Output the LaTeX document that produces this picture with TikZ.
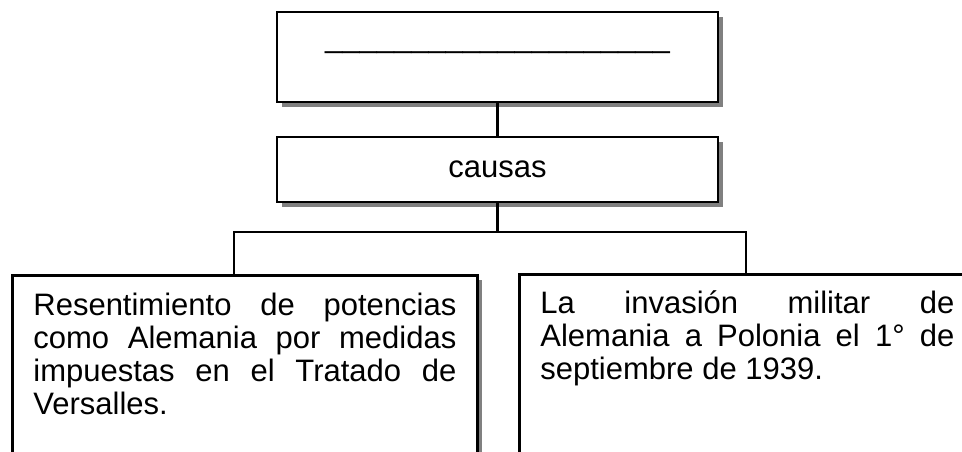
\documentclass[tikz,border=0pt]{standalone}
\usepackage{fontspec}
\setmainfont{Liberation Sans}
\usetikzlibrary{shadows}
\begin{document}
\begin{tikzpicture}[x=1pt,y=-1pt,
  box/.style={draw, line width=2.8pt, fill=white,
    drop shadow={shadow xshift=5pt, shadow yshift=-5pt, fill=black!50, opacity=1}},
  link/.style={line width=2.6pt},
  txt/.style={font=\fontsize{31}{33}\selectfont}]
\useasboundingbox (0,0) rectangle (962,451);
\clip (0,0) rectangle (962,451);
\node[box, txt, minimum width=441pt, minimum height=90pt, inner sep=0pt,
  text height=0pt, text depth=20pt] (title) at (497.5,57)
  {\_\_\_\_\_\_\_\_\_\_\_\_\_\_\_\_\_\_\_\_};
\node[box, txt, minimum width=441pt, minimum height=65pt, inner sep=0pt] (causas) at (497.5,169.5) {causas};
\node[box, txt, anchor=north west, text width=423pt, inner xsep=21pt, inner ysep=18pt,
  text height=22pt, text depth=200pt, align=justify] (left) at (11,274)
  {\hyphenpenalty=10000 Resentimiento de potencias\linebreak como Alemania por medidas\linebreak impuestas en el Tratado de\linebreak Versalles.};
\node[box, txt, anchor=north west, text width=414pt, inner xsep=21pt, inner ysep=17pt,
  text height=22pt, text depth=200pt, align=justify] (right) at (518,273)
  {\hyphenpenalty=10000 La invasión militar de\linebreak Alemania a Polonia el 1° de\linebreak septiembre de 1939.};
\coordinate (jl) at (234,232);
\coordinate (jr) at (746,232);
\draw[link] (title.south) -- (causas.north);
\draw[link] (causas.south) -- (causas.south |- jl);
\draw[link] (left.north -| jl) -- (jl) -- (jr) -- (right.north -| jr);
\end{tikzpicture}
\end{document}
